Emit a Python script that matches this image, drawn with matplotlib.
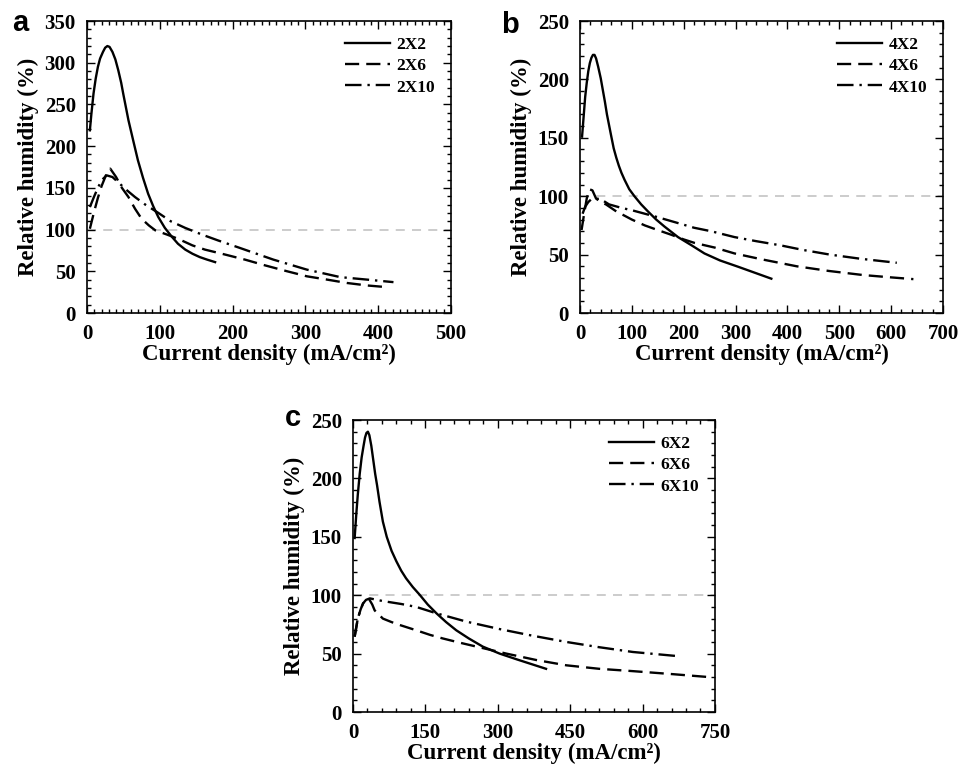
import numpy as np
import matplotlib
matplotlib.use("Agg")
import matplotlib.pyplot as plt
from matplotlib.ticker import MultipleLocator

# ── Panel a: 2X series ──────────────────────────────────────────────────────
a_2x2_x = [4, 6, 9, 12, 15, 18, 22, 25, 28, 31, 35, 39, 43, 47, 50, 57, 64, 70,
           77, 84, 91, 98, 107, 116, 125, 135, 145, 155, 165, 176]
a_2x2_y = [219, 238, 263, 281, 295, 305, 313, 318, 320, 319, 313, 304, 291, 276,
           262, 231, 205, 183, 162, 143, 128, 115, 102, 92, 83, 76, 71, 67, 64, 61]
a_2x6_x = [4, 10, 15, 20, 26, 32, 40, 48, 57, 66, 75, 85, 94, 110, 125, 145, 162,
           190, 217, 245, 275, 302, 330, 357, 385, 412]
a_2x6_y = [101, 122, 138, 152, 165, 173, 163, 150, 139, 125, 113, 105, 99, 94, 89,
           81, 76, 70, 64, 57, 50, 44, 40, 36, 33, 31]
a_2x10_x = [4, 10, 15, 20, 27, 35, 45, 55, 66, 80, 98, 115, 135, 158, 180, 210,
            256, 302, 348, 385, 421]
a_2x10_y = [127, 140, 150, 159, 165, 163, 155, 147, 139, 130, 120, 110, 102, 94,
            87, 78, 64, 52, 43, 40, 37]

# ── Panel b: 4X series ──────────────────────────────────────────────────────
b_4x2_x = [4, 7, 10, 13, 16, 19, 22, 25, 28, 31, 35, 40, 44, 48, 52, 56, 60, 65,
           70, 75, 80, 86, 95, 105, 118, 131, 147, 163, 189, 215, 240, 270, 305,
           337, 369]
b_4x2_y = [151, 168, 185, 197, 207, 214, 218.5, 221, 221, 218, 211, 201, 191, 181,
           170, 161, 152, 141, 133, 126, 120, 114, 106, 100, 93, 87, 80, 74, 65,
           58, 51, 45, 39.6, 34.5, 29.4]
b_4x6_x = [3, 8, 13, 18, 24, 31, 40, 50, 60, 70, 83, 100, 125, 150, 176, 200, 221,
           260, 298, 350, 418, 480, 546, 600, 643]
b_4x6_y = [71, 85, 98, 106, 105, 98, 95, 93, 90, 87, 84, 80, 75, 71, 67, 63, 60,
           56, 51, 46, 40, 36, 32.5, 30.5, 29]
b_4x10_x = [5, 10, 16, 22, 30, 40, 56, 80, 100, 125, 150, 189, 220, 253, 298, 340,
            386, 430, 482, 540, 611]
b_4x10_y = [85, 91, 95, 97.5, 98, 97.5, 93, 90, 88, 85, 82, 77, 73, 70, 65, 61.5,
            58, 54, 50, 46.5, 43]

# ── Panel c: 6X series ──────────────────────────────────────────────────────
c_6x2_x = [3.5, 7, 10, 14, 18, 22, 25, 28, 31, 34, 38, 42, 46, 50, 55, 62, 70,
           80, 90, 100, 110, 124, 138, 155, 173, 193, 214, 240, 269, 304, 340,
           370, 400]
c_6x2_y = [149, 170, 186, 204, 218, 228, 235, 239, 240, 237, 228, 216, 204, 194,
           180, 163, 150, 138, 129, 121, 114.5, 107, 100.5, 92, 84.5, 77, 70, 63,
           56, 50, 45, 41, 37]
c_6x6_x = [3.5, 10, 16, 21, 27, 33, 40, 45, 62, 80, 97, 131, 160, 186, 220, 256,
           318, 380, 442, 510, 580, 660, 735]
c_6x6_y = [64.5, 80, 88, 93, 96, 97, 92, 87, 80, 77, 74.5, 70, 66, 63, 59.5, 56,
           50, 44.5, 40, 37, 35, 32.5, 30]
c_6x10_x = [3.5, 10, 16, 21, 27, 35, 62, 100, 131, 173, 235, 304, 370, 442, 510,
            580, 630, 677]
c_6x10_y = [64.5, 80, 88, 93, 96, 97.3, 95, 92.5, 90, 84.5, 77.4, 71, 65.5, 60,
            55.5, 51.4, 49.5, 47.7]

plt.rcParams["font.family"] = ["Liberation Serif", "DejaVu Serif"]
plt.rcParams["font.weight"] = "bold"
plt.rcParams["axes.labelweight"] = "bold"

DASHED = (0, (6, 3))
DASHDOT = (0, (7, 2.5, 1, 2.5))


def style_axes(ax, xmax, xmajor, xminor, ymax):
    ax.set_xlim(0, xmax)
    ax.set_ylim(0, ymax)
    ax.xaxis.set_major_locator(MultipleLocator(xmajor))
    ax.xaxis.set_minor_locator(MultipleLocator(xminor))
    ax.yaxis.set_major_locator(MultipleLocator(50))
    ax.yaxis.set_minor_locator(MultipleLocator(10))
    ax.tick_params(which="both", direction="in", top=True, right=True,
                   width=1.0, labelsize=15)
    ax.tick_params(axis="y", pad=8)
    ax.tick_params(axis="x", pad=8)
    ax.tick_params(which="major", length=6)
    ax.tick_params(which="minor", length=3)
    for sp in ax.spines.values():
        sp.set_linewidth(1.2)
    ax.axhline(100, color="#c8c8c8", linestyle=(0, (5, 4)), linewidth=1.3, zorder=1)
    ax.set_xlabel("Current density (mA/cm²)", fontsize=16.5, labelpad=0)
    ax.set_ylabel("Relative humidity (%)", fontsize=16.5, labelpad=4)
    ax.legend(loc="upper right", frameon=False, handlelength=2.6,
              prop={"weight": "bold", "size": 12.5},
              borderaxespad=0.5, labelspacing=0.3, handletextpad=0.4)


fig = plt.figure(figsize=(9.62, 7.70), dpi=100)
ax_a = fig.add_axes([0.0904, 0.5935, 0.3784, 0.3792])
ax_b = fig.add_axes([0.6029, 0.5935, 0.3773, 0.3792])
ax_c = fig.add_axes([0.3669, 0.0753, 0.3763, 0.3792])

panels = [
    (ax_a, [(a_2x2_x, a_2x2_y, "2X2"), (a_2x6_x, a_2x6_y, "2X6"),
            (a_2x10_x, a_2x10_y, "2X10")], 500, 100, 10, 350),
    (ax_b, [(b_4x2_x, b_4x2_y, "4X2"), (b_4x6_x, b_4x6_y, "4X6"),
            (b_4x10_x, b_4x10_y, "4X10")], 700, 100, 20, 250),
    (ax_c, [(c_6x2_x, c_6x2_y, "6X2"), (c_6x6_x, c_6x6_y, "6X6"),
            (c_6x10_x, c_6x10_y, "6X10")], 750, 150, 30, 250),
]

for ax, series, xmax, xmaj, xmin, ymax in panels:
    for (x, y, lbl), ls in zip(series, ["-", DASHED, DASHDOT]):
        ax.plot(x, y, color="black", linestyle=ls, linewidth=1.7, label=lbl,
                zorder=3)
    style_axes(ax, xmax, xmaj, xmin, ymax)

for lbl, (px, py) in zip("abc", [(12, 31), (501, 33), (285, 426)]):
    fig.text(px / 962, 1 - py / 770, lbl, fontfamily="Liberation Sans",
             fontweight="bold", fontsize=21, ha="left", va="baseline")

fig.savefig("out.png", dpi=100)
